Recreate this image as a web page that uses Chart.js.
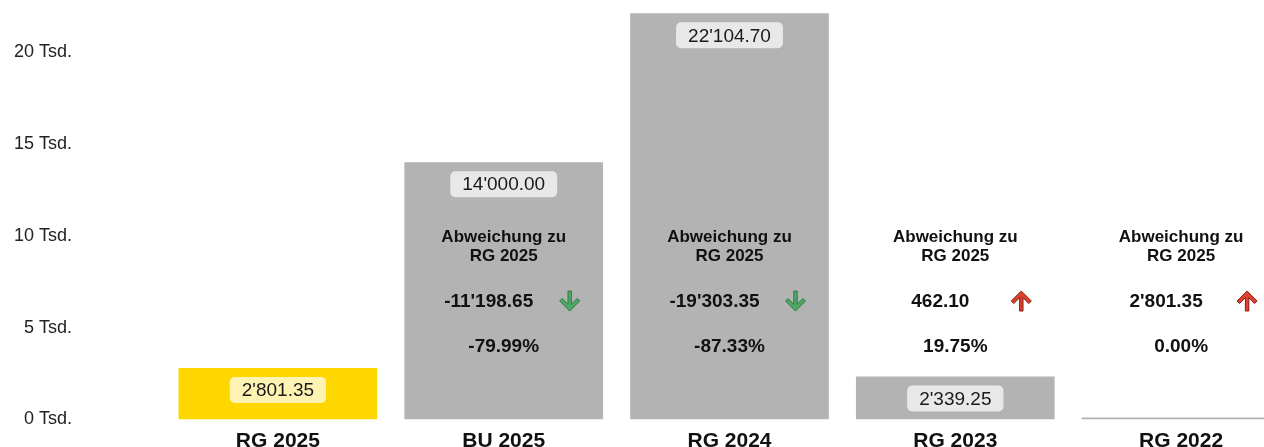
<!DOCTYPE html>
<html>
<head>
<meta charset="utf-8">
<script src="https://cdn.jsdelivr.net/npm/chart.js@4"></script>
<style>
  html, body { margin: 0; padding: 0; background: #fff; overflow: hidden; }
</style>
</head>
<body>
<canvas id="myChart" width="1294" height="447"></canvas>
<script>
const categories = ["RG 2025", "BU 2025", "RG 2024", "RG 2023", "RG 2022"];
const values = [2801.35, 14000.0, 22104.7, 2339.25, 0];
const barColors = ["#FFD700", "#B3B3B3", "#B3B3B3", "#B3B3B3", "#B3B3B3"];
// deviation to RG 2025, null for the reference column itself
const deviation = [null, -11198.65, -19303.35, 462.1, 2801.35];
const deviationPct = [null, -79.99, -87.33, 19.75, 0.0];
const yTicks = [0, 5000, 10000, 15000, 20000];

const FONT = "'Liberation Sans', Arial, Helvetica, sans-serif";

function fmt(n) {
  const neg = n < 0;
  const parts = Math.abs(n).toFixed(2).split(".");
  const int = parts[0].replace(/\B(?=(\d{3})+(?!\d))/g, "'");
  return (neg ? "-" : "") + int + "." + parts[1];
}

function roundRect(ctx, x, y, w, h, r) {
  ctx.beginPath();
  ctx.moveTo(x + r, y);
  ctx.arcTo(x + w, y, x + w, y + h, r);
  ctx.arcTo(x + w, y + h, x, y + h, r);
  ctx.arcTo(x, y + h, x, y, r);
  ctx.arcTo(x, y, x + w, y, r);
  ctx.closePath();
}

function arrow(ctx, cx, cy, up) {
  const s = up ? 1 : -1;
  const pts = [
    [0, -10], [10, 0], [7.5, 2.5], [1.7, -3.3], [1.7, 10],
    [-1.7, 10], [-1.7, -3.3], [-7.5, 2.5], [-10, 0]
  ];
  ctx.beginPath();
  pts.forEach((p, i) => {
    const px = cx + p[0], py = cy + p[1] * s;
    if (i === 0) ctx.moveTo(px, py); else ctx.lineTo(px, py);
  });
  ctx.closePath();
  ctx.fillStyle = up ? "#D9432F" : "#4FA866";
  ctx.strokeStyle = up ? "#8E1A10" : "#2E7A43";
  ctx.lineWidth = 1;
  ctx.fill();
  ctx.stroke();
}

const labelPlugin = {
  id: "labels",
  afterDatasetsDraw(chart) {
    const ctx = chart.ctx;
    const meta = chart.getDatasetMeta(0);
    const top = chart.chartArea.top;
    ctx.save();
    meta.data.forEach((bar, i) => {
      const cx = bar.x;
      // value box
      if (values[i] > 0) {
        ctx.font = "19px " + FONT;
        const txt = fmt(values[i]);
        const w = ctx.measureText(txt).width + 24;
        const h = 26;
        const by = bar.y + 9;
        ctx.fillStyle = "rgba(255,255,255,0.7)";
        roundRect(ctx, cx - w / 2, by, w, h, 5);
        ctx.fill();
        ctx.fillStyle = "#1a1a1a";
        ctx.textAlign = "center";
        ctx.textBaseline = "middle";
        ctx.fillText(txt, cx, by + h / 2 + 1);
      }
      // deviation block
      if (deviation[i] !== null) {
        ctx.fillStyle = "#111";
        ctx.textAlign = "center";
        ctx.textBaseline = "middle";
        ctx.font = "bold 17px " + FONT;
        ctx.fillText("Abweichung zu", cx, top + 237);
        ctx.fillText(categories[0], cx, top + 256);
        ctx.font = "bold 19px " + FONT;
        ctx.fillText(fmt(deviation[i]), cx - 15, top + 302);
        ctx.fillText(deviationPct[i].toFixed(2) + "%", cx, top + 347);
        arrow(ctx, cx + 66, top + 301, deviation[i] > 0);
      }
    });
    ctx.restore();
  }
};

new Chart("myChart", {
  type: "bar",
  data: {
    labels: categories,
    datasets: [
      {
        data: values,
        backgroundColor: barColors,
        barPercentage: 0.88,
        categoryPercentage: 1,
        minBarLength: 2,
      },
    ],
  },
  options: {
    responsive: false,
    animation: false,
    devicePixelRatio: 1,
    layout: { padding: 0 },
    plugins: {
      legend: { display: false },
      tooltip: { enabled: false },
    },
    scales: {
      x: {
        grid: { display: false },
        border: { display: false },
        ticks: {
          padding: 1,
          color: "#111",
          font: { family: FONT, size: 21, weight: "bold" },
        },
        afterFit(axis) {
          axis.height = 27.5;
          axis.paddingLeft = 0;
          axis.paddingRight = 0;
        },
      },
      y: {
        min: 0,
        max: 22830,
        grid: { display: false, drawTicks: false },
        border: { display: false },
        afterBuildTicks(axis) {
          axis.ticks = yTicks.map(v => ({ value: v }));
        },
        ticks: {
          padding: 93,
          color: "#222",
          font: { family: FONT, size: 18 },
          callback: v => v / 1000 + " Tsd.",
        },
        afterFit(axis) {
          axis.width = 165;
          axis.paddingTop = 0;
          axis.paddingBottom = 0;
        },
      },
    },
  },
  plugins: [labelPlugin],
});
</script>
</body>
</html>
